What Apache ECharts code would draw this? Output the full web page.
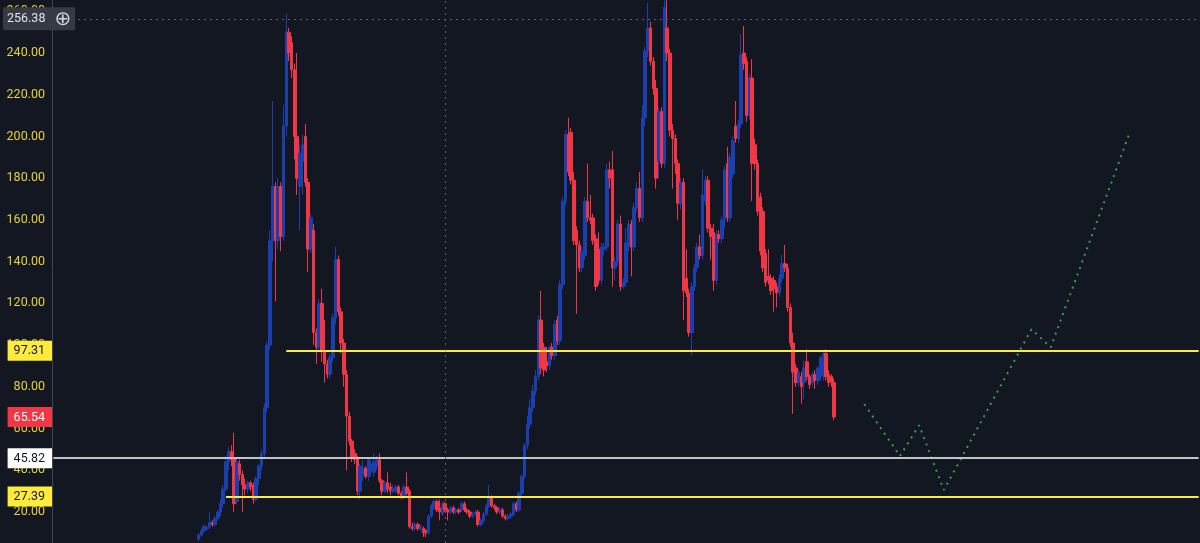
<!DOCTYPE html>
<html><head><meta charset="utf-8">
<script src="https://cdn.jsdelivr.net/npm/echarts@6/dist/echarts.min.js"></script>
<style>html,body{margin:0;padding:0;background:#131722;}#c{width:1200px;height:543px;}</style>
</head><body><div id="c"></div>
<script>
// ---- data ----
const categoryCount = 419;
const candleStart = 53;
// [open, close, low, high]
const candles = [
[7,9,6,10],[9,11,8,12],[11,13,10,14],[12,12.5,11,13.5],[13,15,12,20],[15,14,13,16],[14,17,13,18],[17,20,16,21],[20,24,18,26],[24,31,22,33],
[31,44,30,47],[44,49,40,51],[49,45,42,52],[46,24,20,58],[25,44,24,46],[43,38,35,45],[38,33,20,40],[33,31,28,36],[31,34,29,35],[34,32,30,35],
[33,26,24,34],[26,36,25,37],[36,42,33,43],[42,48,40,50],[48,70,46,72],[70,100,68,102],[100,150,98,155],[150,176,140,217],[176,150,121,178],[150,176,146,180],
[176,152,145,178],[152,205,150,215],[205,250,200,259],[250,240,236,252],[245,232,228,248],[232,200,189,235],[200,180,172,240],[176,192,155,196],[188,196,172,201],[200,178,176,206],
[178,146,135,180],[146,161,144,163],[155,106,100,158],[106,99,91,108],[99,120,97,122],[120,97,92,127],[97,91,82,112],[91,86,84,93],[86,94,84,96],[94,113,92,115],
[113,141,110,147],[141,116,114,143],[116,101,96,118],[101,86,80,103],[86,66,40,88],[66,54,52,68],[54,46,44,55],[48,45,43,50],[46,30,28,47],[30,42,26,43],
[38,41,35,45],[41,37,36,42],[37,45,35,46],[40,43,37,45],[39,44,37,48],[42,45,40,47],[45,35,34,48],[35,30,28,36],[30,34,29,35],[34,31,29,39],
[32,30,28,34],[30,31,29,33],[30,32,29,33],[32,29,28,33],[29,27,26,30],[27,32,26,33],[32,29,28,39],[30,13,12,31],[13,12,11,15],[12,14,11,15],
[14,12,11,15],[12,13,11,14],[12,10,8,13],[11,10,8,12],[10,18,9,19],[18,23,17,24],[22,25,21,26],[25,21,20,26],[22,20,16,26],[19,24,18,25],
[24,21,20,25],[21,20,16,22],[20,22,19,23],[22,20,19,23],[20,21,19,22],[21,20,19,22],[21,24,20,25],[24,21,20,25],[21,20,19,22],[20,18,17,21],
[18,19,17,20],[19,20,18,21],[20,14,13,21],[14,16,13,17],[16,19,15,20],[19,23,18,24],[23,27,22,33],[27,23,22,28],[23,22,21,24],[22,20,19,23],
[20,21,19,22],[21,18,17,22],[18,17,16,19],[17,18,16,19],[18,19,17,20],[19,24,18,25],[24,21,20,25],[21,29,20,30],[29,37,28,38],[37,52,36,53],
[52,62,50,66],[62,70,60,74],[70,78,68,81],[78,85,76,88],
[85,112,83,114],[112,89,86,126],[99,88,85,101],[92,90,87,99],[90,99,88,100],[99,95,93,101],[95,110,93,112],[112,102,100,114],[102,129,100,131],[129,169,127,171],
[169,201,167,203],[201,183,181,209],[202,179,177,204],[179,150,148,183],[155,148,115,157],[148,137,135,150],[137,145,135,147],[143,169,141,171],[169,161,159,187],[161,160,158,172],
[161,150,148,163],[151,128,126,153],[146,131,129,154],[131,147,129,149],[146,147,143,149],[147,184,145,187],[184,180,175,188],[184,137,128,193],[137,140,131,142],[140,158,138,160],
[158,128,126,162],[128,130,127,132],[130,149,128,156],[147,158,145,160],[158,147,133,160],[147,166,145,168],[166,175,164,178],[175,161,159,183],[161,209,159,215],[209,241,205,243],
[241,252,238,264],[252,236,234,255],[236,223,220,238],[223,180,175,227],[188,212,180,214],[212,187,185,214],[187,262,185,270],[252,240,236,268],[240,203,200,242],[203,199,175,206],
[199,187,182,201],[187,168,160,189],[168,178,165,180],[178,126,112,180],
[132,125,123,146],[125,106,104,127],[106,128,95,130],[128,137,126,139],[137,147,135,149],[147,143,141,153],[143,172,141,184],[169,179,167,181],[179,156,154,181],[156,152,141,158],
[154,131,126,158],[131,153,129,155],[153,151,149,155],[151,160,149,162],[160,184,156,186],[187,161,159,195],[161,190,159,192],[182,198,180,200],[205,199,197,217],[199,206,197,208],
[206,239,204,249],[240,235,232,253],[236,210,207,238],[210,228,208,230],[228,187,169,237],[196,187,184,199],[187,164,162,189],[171,145,143,173],[164,137,135,166],[144,130,128,146],
[133,131,129,146],[132,126,124,134],[131,127,116,133],[128,125,118,130],[125,132,123,134],[132,139,130,143],[139,137,135,148],[137,118,116,139],[118,101,99,120],[101,87,67,106],
[89,82,80,91],[82,87,80,88],[85,80,72,87],[82,89,74,93],[92,85,83,98],[85,81,79,86],[82,86,80,87],[86,83,79,88],[83,89,81,90],[85,94,83,95],
[85,96,83,97],[96,85,83,98],[86,82,80,88],[85,82,80,86],[82,65.54,64,84]
];
const projIdx = [296,309,316,325,357,364,393];
const projVal = [71.7,46.8,61.6,30.5,107.6,98.9,202.3];
const tickValues = [20,40,60,80,100,120,140,160,180,200,220,240,260];
const levelYellowHigh = 97.31;
const levelWhite = 45.82;
const levelYellowLow = 27.39;
const lastPrice = 65.54;
const crossPrice = 256.38;
const crossIndex = 143;

// ---- build ----
const cats = Array.from({length: categoryCount}, (_, i) => 'W' + i);
const candleData = [];
for (let i = 0; i < candleStart; i++) candleData.push(['-','-','-','-']);
candles.forEach(c => candleData.push(c));
const projData = new Array(categoryCount).fill(null);
projIdx.forEach((ix, k) => { projData[ix] = projVal[k]; });

const yMin = 5.14, yMax = 265.4;
const lastIdx = categoryCount - 1;
const labelKey = {};
labelKey[levelYellowHigh.toFixed(2)] = 'y';
labelKey[levelYellowLow.toFixed(2)] = 'y';
labelKey[levelWhite.toFixed(2)] = 'w';
labelKey[lastPrice.toFixed(2)] = 'r';

const chart = echarts.init(document.getElementById('c'), null, {renderer: 'canvas'});
const font = 'Roboto, "Noto Sans", sans-serif';
const boxPad = [4, 7, 3, 6];
chart.setOption({
  animation: false,
  backgroundColor: '#131722',
  grid: {left: 49, right: 0, top: 0, bottom: 0, containLabel: false},
  xAxis: {type: 'category', data: cats, boundaryGap: true, show: false},
  yAxis: [
    {type: 'value', min: yMin, max: yMax, position: 'left', z: 1,
     axisLine: {show: true, lineStyle: {color: '#434651', width: 1}},
     axisTick: {show: false}, splitLine: {show: false},
     axisLabel: {customValues: tickValues, formatter: v => v.toFixed(2), color: '#e8d23c',
                 fontSize: 12.5, fontFamily: font, margin: 7}},
    {type: 'value', min: yMin, max: yMax, position: 'left', z: 5,
     axisLine: {show: false}, axisTick: {show: false}, splitLine: {show: false},
     axisLabel: {customValues: [levelYellowHigh, lastPrice, levelWhite, levelYellowLow],
                 formatter: v => '{' + labelKey[v.toFixed(2)] + '|' + v.toFixed(2) + '}',
                 margin: 0, fontSize: 12.5, fontFamily: font,
                 rich: {
                   y: {backgroundColor: '#ffeb3b', color: '#131722', fontSize: 12.5, fontFamily: font, padding: boxPad, lineHeight: 12},
                   w: {backgroundColor: '#ffffff', color: '#131722', fontSize: 12.5, fontFamily: font, padding: boxPad, lineHeight: 12},
                   r: {backgroundColor: '#f23645', color: '#ffffff', fontSize: 12.5, fontFamily: font, padding: boxPad, lineHeight: 12}
                 }}},
    {type: 'value', min: yMin, max: yMax, position: 'left', z: 6,
     axisLine: {show: false}, axisTick: {show: false}, splitLine: {show: false},
     axisLabel: {customValues: [crossPrice], align: 'left', margin: 49,
                 formatter: v => '{t|' + v.toFixed(2) + '}{p|⊕}',
                 backgroundColor: '#363a45', padding: [3, 4, 2, 4], borderRadius: 2,
                 rich: {
                   t: {color: '#e0e3eb', fontSize: 12.5, fontFamily: font, padding: [0, 9, 0, 0]},
                   p: {color: '#d1d4dc', fontSize: 20, fontFamily: '"DejaVu Sans"', lineHeight: 18}
                 }}}
  ],
  series: [
    {type: 'candlestick', data: candleData, barWidth: 3,
     itemStyle: {color: '#1c3fae', color0: '#f23645', borderColor: '#1c3fae', borderColor0: '#f23645', borderWidth: 1},
     markLine: {silent: true, symbol: 'none', label: {show: false},
       data: [
         [{coord: [85, levelYellowHigh], lineStyle: {color: '#ffeb3b', width: 2, type: 'solid'}}, {coord: [lastIdx, levelYellowHigh]}],
         [{coord: [0, levelWhite], lineStyle: {color: '#c4c4c4', width: 2, type: 'solid'}}, {coord: [lastIdx, levelWhite]}],
         [{coord: [63, levelYellowLow], lineStyle: {color: '#ffeb3b', width: 2, type: 'solid'}}, {coord: [lastIdx, levelYellowLow]}],
         [{coord: [9, crossPrice], lineStyle: {color: '#5d606b', width: 1, type: [2, 4]}}, {coord: [lastIdx, crossPrice]}],
         {xAxis: crossIndex, lineStyle: {color: '#5d606b', width: 1, type: [2, 4]}}
       ]}},
    {type: 'line', data: projData, connectNulls: true, showSymbol: false, symbol: 'none',
     lineStyle: {color: '#3c9e40', width: 2, type: [2, 5]}, z: 3}
  ]
});
</script></body></html>
